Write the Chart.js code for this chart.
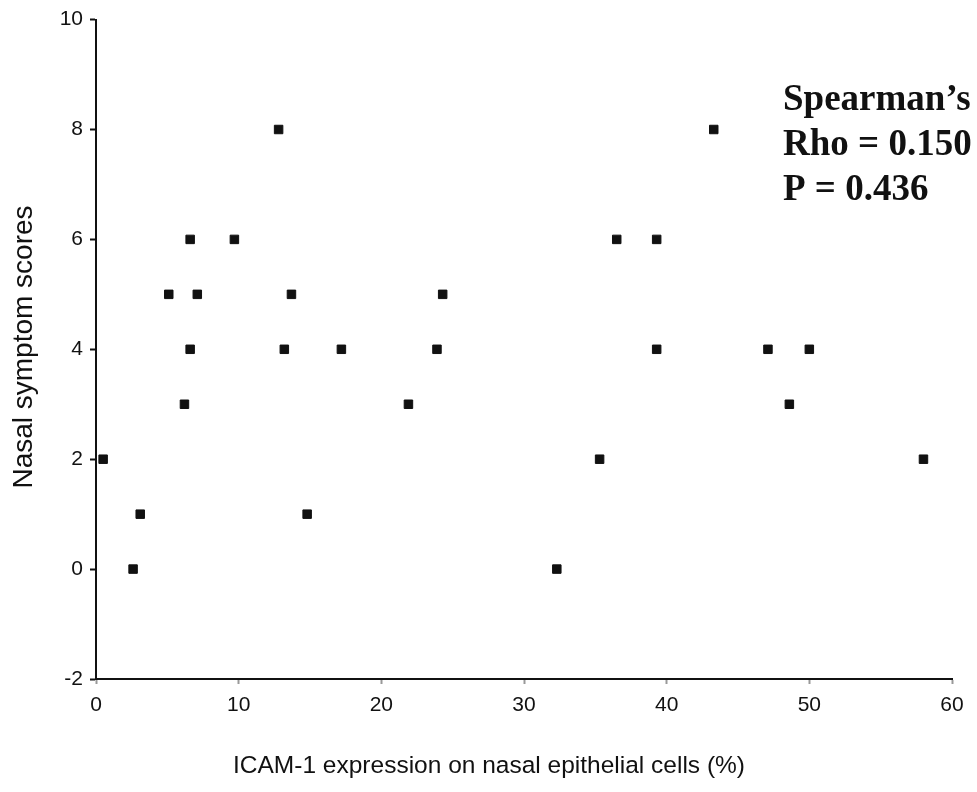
<!DOCTYPE html>
<html>
<head>
<meta charset="utf-8">
<title>ICAM-1 vs nasal symptom scores</title>
<script src="https://cdn.jsdelivr.net/npm/chart.js@4.4.1/dist/chart.umd.min.js"></script>
<style>
  html, body { margin: 0; padding: 0; background: #fff; }
  #wrap { width: 977px; height: 792px; position: relative; }
</style>
</head>
<body>
<div id="wrap"><canvas id="scatter"></canvas></div>
<script>
// ----- Data -----
const icamPercent = [0.5, 2.6, 3.1, 5.1, 6.2, 6.6, 6.6, 7.1, 9.7, 12.8, 13.2, 13.7, 14.8, 17.2,
                     21.9, 23.9, 24.3, 32.3, 35.3, 36.5, 39.3, 39.3, 43.3, 47.1, 48.6, 50.0, 58.0];
const symptomScore = [2, 0, 1, 5, 3, 6, 4, 5, 6, 8, 4, 5, 1, 4,
                      3, 4, 5, 0, 2, 6, 6, 4, 8, 4, 3, 4, 2];
const xTicks = [0, 10, 20, 30, 40, 50, 60];
const yTicks = [-2, 0, 2, 4, 6, 8, 10];
const statsLines = ['Spearman\u2019s', 'Rho = 0.150', 'P = 0.436'];
const xTitle = 'ICAM-1 expression on nasal epithelial cells (%)';
const yTitle = 'Nasal symptom scores';

const points = icamPercent.map((x, i) => ({ x, y: symptomScore[i] }));

const sans = '"Liberation Sans", Arial, sans-serif';

// ----- Axis titles + stats annotation, drawn by hand -----
// (the x title in the figure sits left of the plot centre, so chart.js titles won't do)
const figureText = {
  id: 'figureText',
  afterDraw(chart) {
    const { ctx } = chart;
    ctx.save();
    ctx.fillStyle = '#111';

    ctx.font = '24.5px ' + sans;
    ctx.textAlign = 'center';
    ctx.textBaseline = 'middle';
    ctx.fillText(xTitle, 489, 766);

    ctx.save();
    ctx.translate(24, 347);
    ctx.rotate(-Math.PI / 2);
    ctx.font = '28px ' + sans;
    ctx.fillText(yTitle, 0, 0);
    ctx.restore();

    ctx.font = 'bold 37px "Liberation Serif", "Times New Roman", serif';
    ctx.textAlign = 'left';
    ctx.textBaseline = 'alphabetic';
    statsLines.forEach((line, i) => ctx.fillText(line, 783, 110 + i * 45));
    ctx.restore();
  }
};

const tickFont = { family: sans, size: 21 };

new Chart(document.getElementById('scatter'), {
  type: 'scatter',
  data: {
    datasets: [{
      data: points,
      pointStyle: 'rect',
      pointRadius: 6,
      pointHoverRadius: 6,
      backgroundColor: '#111',
      borderColor: '#111',
      borderWidth: 1
    }]
  },
  options: {
    responsive: true,
    maintainAspectRatio: false,
    animation: false,
    layout: { padding: { left: 0, top: 19, right: 25, bottom: 0 } },
    plugins: {
      legend: { display: false },
      tooltip: { enabled: false }
    },
    scales: {
      x: {
        type: 'linear',
        min: 0,
        max: 60,
        afterBuildTicks: s => { s.ticks = xTicks.map(v => ({ value: v })); },
        afterFit: s => { s.height = 113; },
        ticks: { color: '#111', font: tickFont, padding: 9, maxRotation: 0 },
        grid: { drawOnChartArea: false, tickLength: 5, tickColor: '#999', tickWidth: 2 },
        border: { display: true, color: '#111', width: 2 }
      },
      y: {
        type: 'linear',
        min: -2,
        max: 10,
        afterBuildTicks: s => { s.ticks = yTicks.map(v => ({ value: v })); },
        afterFit: s => { s.width = 96; },
        ticks: { color: '#111', font: tickFont, padding: 7 },
        grid: { drawOnChartArea: false, tickLength: 6, tickColor: '#111', tickWidth: 2 },
        border: { display: true, color: '#111', width: 2 }
      }
    }
  },
  plugins: [figureText]
});
</script>
</body>
</html>
